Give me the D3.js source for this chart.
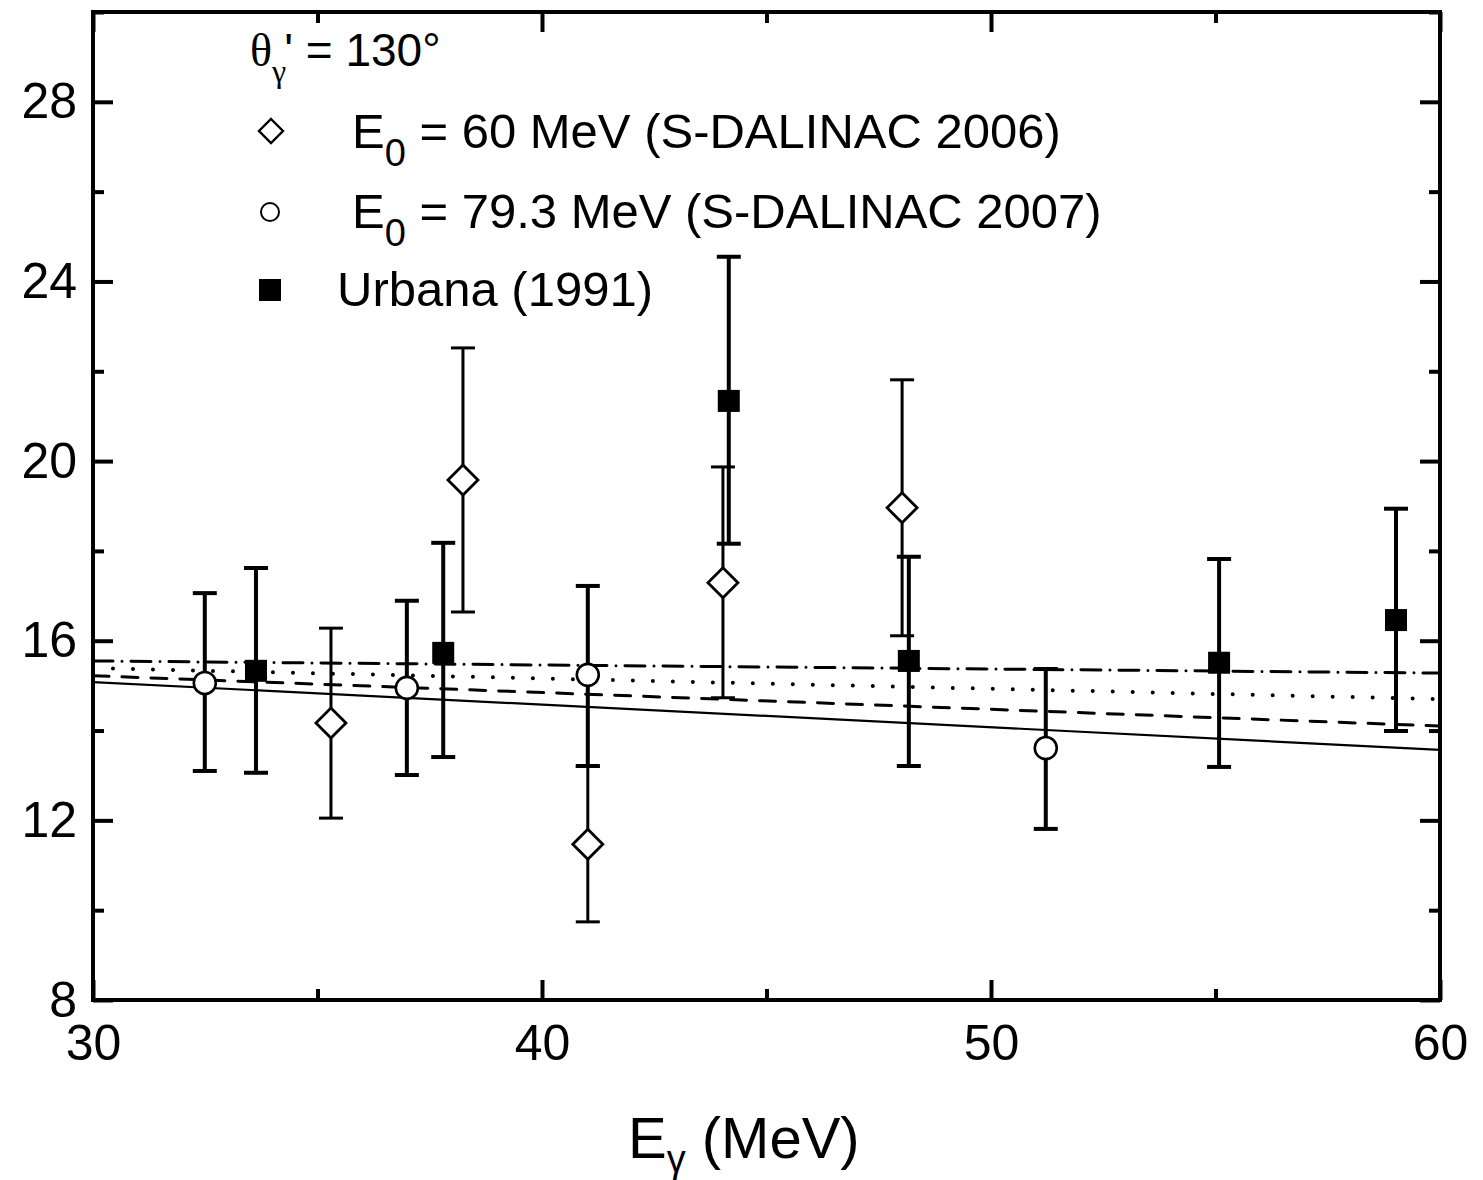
<!DOCTYPE html>
<html>
<head>
<meta charset="utf-8">
<script src="https://cdn.jsdelivr.net/npm/d3@7/dist/d3.min.js"></script>
<style>
body { margin: 0; background: #fff; }
text { font-family: "Liberation Sans", Arial, sans-serif; fill: #000; }
</style>
</head>
<body>
<svg id="chart" width="1483" height="1180"></svg>
<script>
// E0 = 79.3 MeV (open circles)
var circleX = [32.49, 36.99, 41.02, 51.22];
var circleY = [15.06, 14.95, 15.24, 13.61];
var circleLo = [13.10, 13.01, 13.21, 11.81];
var circleHi = [17.06, 16.89, 17.22, 15.37];

// E0 = 60 MeV (open diamonds)
var diamondX = [35.30, 38.24, 41.02, 44.03, 48.02];
var diamondY = [14.17, 19.58, 11.47, 17.29, 18.96];
var diamondLo = [12.05, 16.64, 9.74, 14.73, 16.11];
var diamondHi = [16.28, 22.52, 13.20, 19.87, 21.81];

// Urbana 1991 (filled squares)
var squareX = [33.63, 37.80, 44.16, 48.17, 55.08, 59.02];
var squareY = [15.33, 15.73, 21.34, 15.55, 15.51, 16.46];
var squareLo = [13.06, 13.41, 18.16, 13.21, 13.19, 13.99];
var squareHi = [17.62, 18.18, 24.55, 17.87, 17.82, 18.94];

// theory curves, straight lines from 30 to 60 MeV
var lineX = [30, 60];
var solidY = [15.08, 13.57];
var dashY = [15.22, 14.10];
var dotY = [15.39, 14.70];
var dashDotY = [15.55, 15.28];

var xTicks = [30, 40, 50, 60];
var xMinor = [35, 45, 55];
var yTicks = [8, 12, 16, 20, 24, 28];
var yMinor = [10, 14, 18, 22, 26, 30];

// note: "top" is taken by window.top, so plot edges get their own names
var plotLeft = 93, plotTop = 12, plotRight = 1440, plotBottom = 1000;

var svg = d3.select("#chart");

var x = d3.scaleLinear().domain([30, 60]).range([plotLeft, plotRight]);
var y = d3.scaleLinear().domain([8, 30]).range([plotBottom, plotTop]);

function zip(xs, ys, los, his) { //turn the arrays into point objects
	return xs.map(function(d, i) {
		return {x: d, y: ys[i], lo: los ? los[i] : null, hi: his ? his[i] : null};
	});
}

function axes() {
	// major + minor ticks on all four sides, pointing inward
	svg.append("g").attr("class", "ax")
		.attr("transform", "translate(" + plotLeft + ",0)")
		.call(d3.axisLeft(y).tickValues(yTicks).tickSize(-20).tickPadding(16).tickFormat(d3.format("d")));
	svg.append("g").attr("class", "ax")
		.attr("transform", "translate(" + plotLeft + ",0)")
		.call(d3.axisLeft(y).tickValues(yMinor).tickSize(-11).tickFormat(""));
	svg.append("g").attr("class", "ax")
		.attr("transform", "translate(" + plotRight + ",0)")
		.call(d3.axisRight(y).tickValues(yTicks).tickSize(-20).tickFormat(""));
	svg.append("g").attr("class", "ax")
		.attr("transform", "translate(" + plotRight + ",0)")
		.call(d3.axisRight(y).tickValues(yMinor).tickSize(-11).tickFormat(""));

	svg.append("g").attr("class", "ax")
		.attr("transform", "translate(0," + plotBottom + ")")
		.call(d3.axisBottom(x).tickValues(xTicks).tickSize(-20).tickPadding(24).tickFormat(d3.format("d")));
	svg.append("g").attr("class", "ax")
		.attr("transform", "translate(0," + plotBottom + ")")
		.call(d3.axisBottom(x).tickValues(xMinor).tickSize(-11).tickFormat(""));
	svg.append("g").attr("class", "ax")
		.attr("transform", "translate(0," + plotTop + ")")
		.call(d3.axisTop(x).tickValues(xTicks).tickSize(-20).tickFormat(""));
	svg.append("g").attr("class", "ax")
		.attr("transform", "translate(0," + plotTop + ")")
		.call(d3.axisTop(x).tickValues(xMinor).tickSize(-11).tickFormat(""));

	svg.selectAll(".ax .domain").remove();
	svg.selectAll(".ax line").attr("stroke", "#000").attr("stroke-width", 4);
	svg.selectAll(".ax text").style("font-size", "50px").style("font-family", "'Liberation Sans', Arial, sans-serif").attr("fill", "#000");

	svg.append("rect")
		.attr("x", plotLeft).attr("y", plotTop)
		.attr("width", plotRight - plotLeft).attr("height", plotBottom - plotTop)
		.attr("fill", "none").attr("stroke", "#000").attr("stroke-width", 4);
}

function curves() {
	var styles = [
		{ys: solidY, dash: null, w: 2.2},
		{ys: dashY, dash: "16,13", w: 3},
		{ys: dotY, dash: "0,20", w: 4},
		{ys: dashDotY, dash: "20,9,0,9", w: 3}
	];
	var line = d3.line().x(function(d) { return x(d.x); }).y(function(d) { return y(d.y); });
	styles.forEach(function(s) {
		svg.append("path")
			.datum(zip(lineX, s.ys))
			.attr("d", line)
			.attr("fill", "none")
			.attr("stroke", "#000")
			.attr("stroke-width", s.w)
			.attr("stroke-linecap", s.dash ? "round" : "butt")
			.attr("stroke-dasharray", s.dash);
	});
}

function errorBars(data, w) {
	var g = svg.append("g").attr("stroke", "#000").attr("stroke-width", w);
	g.selectAll(".bar").data(data).enter().append("line")
		.attr("x1", function(d) { return x(d.x); }).attr("x2", function(d) { return x(d.x); })
		.attr("y1", function(d) { return y(d.lo); }).attr("y2", function(d) { return y(d.hi); });
	[ "lo", "hi" ].forEach(function(k) {
		g.selectAll(".cap" + k).data(data).enter().append("line")
			.attr("x1", function(d) { return x(d.x) - 12; }).attr("x2", function(d) { return x(d.x) + 12; })
			.attr("y1", function(d) { return y(d[k]); }).attr("y2", function(d) { return y(d[k]); });
	});
}

function diamondPath(cx, cy, r) {
	return "M" + cx + "," + (cy - r) + "L" + (cx + r) + "," + cy + "L" + cx + "," + (cy + r) + "L" + (cx - r) + "," + cy + "Z";
}

function markers(circles, diamonds, squares) {
	svg.selectAll(".dia").data(diamonds).enter().append("path")
		.attr("d", function(d) { return diamondPath(x(d.x), y(d.y), 15); })
		.attr("fill", "#fff").attr("stroke", "#000").attr("stroke-width", 2.8);
	svg.selectAll(".circ").data(circles).enter().append("circle")
		.attr("cx", function(d) { return x(d.x); }).attr("cy", function(d) { return y(d.y); })
		.attr("r", 11)
		.attr("fill", "#fff").attr("stroke", "#000").attr("stroke-width", 2.6);
	svg.selectAll(".sq").data(squares).enter().append("rect")
		.attr("x", function(d) { return x(d.x) - 11; }).attr("y", function(d) { return y(d.y) - 11; })
		.attr("width", 22).attr("height", 22)
		.attr("fill", "#000");
}

function legend() {
	var t = svg.append("text").attr("x", 250).attr("y", 66).style("font-size", "46px");
	t.append("tspan").text("θ").style("font-family", "'Liberation Serif', 'Times New Roman', serif").style("font-size", "46px");
	t.append("tspan").text("γ").attr("dy", 16).style("font-family", "'Liberation Serif', 'Times New Roman', serif").style("font-size", "32px");
	t.append("tspan").text("'").attr("dy", -16).attr("dx", -2);
	t.append("tspan").text(" = 130°");

	svg.append("path").attr("d", diamondPath(271, 131, 12))
		.attr("fill", "#fff").attr("stroke", "#000").attr("stroke-width", 2.4);
	var t1 = svg.append("text").attr("x", 352).attr("y", 148).style("font-size", "49px");
	t1.append("tspan").text("E");
	t1.append("tspan").text("0").attr("dy", 18).style("font-size", "38px");
	t1.append("tspan").text(" = 60 MeV (S-DALINAC 2006)").attr("dy", -18);

	svg.append("circle").attr("cx", 270).attr("cy", 212).attr("r", 9)
		.attr("fill", "#fff").attr("stroke", "#000").attr("stroke-width", 2);
	var t2 = svg.append("text").attr("x", 352).attr("y", 228).style("font-size", "49px");
	t2.append("tspan").text("E");
	t2.append("tspan").text("0").attr("dy", 18).style("font-size", "38px");
	t2.append("tspan").text(" = 79.3 MeV (S-DALINAC 2007)").attr("dy", -18);

	svg.append("rect").attr("x", 259).attr("y", 279).attr("width", 22).attr("height", 22).attr("fill", "#000");
	svg.append("text").attr("x", 337).attr("y", 306).style("font-size", "49px").text("Urbana (1991)");

	// x axis title
	var xt = svg.append("text").attr("x", 628).attr("y", 1158).style("font-size", "58px");
	xt.append("tspan").text("E");
	xt.append("tspan").text("γ").attr("dy", 14).style("font-size", "38px");
	xt.append("tspan").text(" (MeV)").attr("dy", -14);
}

var circles = zip(circleX, circleY, circleLo, circleHi);
var diamonds = zip(diamondX, diamondY, diamondLo, diamondHi);
var squares = zip(squareX, squareY, squareLo, squareHi);

curves();
errorBars(diamonds, 3);
errorBars(circles, 4);
errorBars(squares, 4);
markers(circles, diamonds, squares);
axes();
legend();
</script>
</body>
</html>
